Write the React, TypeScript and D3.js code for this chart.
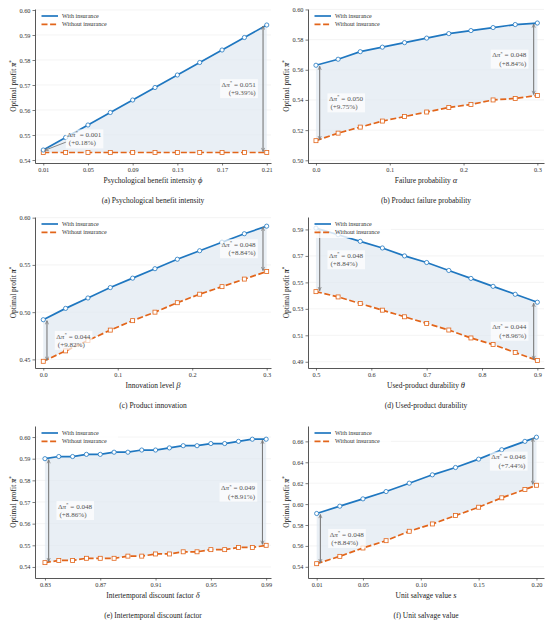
import React, { useEffect, useRef } from "react";
import * as d3 from "d3";

// sensitivity values
const phiValues = [0.01, 0.03, 0.05, 0.07, 0.09, 0.11, 0.13, 0.15, 0.17, 0.19, 0.21];
const phiWith = [0.544, 0.549, 0.554, 0.559, 0.564, 0.569, 0.574, 0.579, 0.584, 0.589, 0.594];
const phiWithout = [0.543, 0.543, 0.543, 0.543, 0.543, 0.543, 0.543, 0.543, 0.543, 0.543, 0.543];

const alphaValues = [0, 0.03, 0.06, 0.09, 0.12, 0.15, 0.18, 0.21, 0.24, 0.27, 0.3];
const alphaWith = [0.563, 0.567, 0.572, 0.575, 0.578, 0.581, 0.584, 0.586, 0.588, 0.59, 0.591];
const alphaWithout = [0.513, 0.518, 0.522, 0.526, 0.529, 0.532, 0.535, 0.537, 0.54, 0.541, 0.543];

const betaValues = [0, 0.03, 0.06, 0.09, 0.12, 0.15, 0.18, 0.21, 0.24, 0.27, 0.3];
const betaWith = [0.492, 0.504, 0.515, 0.526, 0.536, 0.546, 0.556, 0.565, 0.574, 0.583, 0.591];
const betaWithout = [0.448, 0.459, 0.47, 0.481, 0.491, 0.5, 0.51, 0.519, 0.527, 0.535, 0.543];

const thetaValues = [0.5, 0.54, 0.58, 0.62, 0.66, 0.7, 0.74, 0.78, 0.82, 0.86, 0.9];
const thetaWith = [0.591, 0.586, 0.581, 0.576, 0.57, 0.565, 0.559, 0.553, 0.547, 0.541, 0.535];
const thetaWithout = [0.543, 0.539, 0.534, 0.529, 0.524, 0.519, 0.514, 0.508, 0.503, 0.497, 0.491];

const deltaValues = [0.83, 0.84, 0.85, 0.86, 0.87, 0.88, 0.89, 0.9, 0.91, 0.92, 0.93, 0.94, 0.95, 0.96, 0.97, 0.98, 0.99];
const deltaWith = [0.59, 0.591, 0.591, 0.592, 0.592, 0.593, 0.593, 0.594, 0.594, 0.595, 0.596, 0.596, 0.597, 0.597, 0.598, 0.599, 0.599];
const deltaWithout = [0.542, 0.543, 0.543, 0.544, 0.544, 0.544, 0.545, 0.545, 0.546, 0.546, 0.547, 0.547, 0.548, 0.548, 0.549, 0.549, 0.55];

const sValues = [0.01, 0.03, 0.05, 0.07, 0.09, 0.11, 0.13, 0.15, 0.17, 0.19, 0.2];
const sWith = [0.591, 0.598, 0.605, 0.612, 0.62, 0.628, 0.635, 0.643, 0.652, 0.66, 0.664];
const sWithout = [0.543, 0.55, 0.558, 0.565, 0.574, 0.581, 0.589, 0.597, 0.606, 0.614, 0.618];

// tick values
const phiTicks = [0.01, 0.05, 0.09, 0.13, 0.17, 0.21];
const phiYTicks = [0.54, 0.55, 0.56, 0.57, 0.58, 0.59, 0.6];
const alphaTicks = [0, 0.1, 0.2, 0.3];
const alphaYTicks = [0.5, 0.52, 0.54, 0.56, 0.58, 0.6];
const betaTicks = [0, 0.1, 0.2, 0.3];
const betaYTicks = [0.45, 0.5, 0.55, 0.6];
const thetaTicks = [0.5, 0.6, 0.7, 0.8, 0.9];
const thetaYTicks = [0.49, 0.51, 0.53, 0.55, 0.57, 0.59];
const deltaTicks = [0.83, 0.87, 0.91, 0.95, 0.99];
const deltaYTicks = [0.54, 0.55, 0.56, 0.57, 0.58, 0.59, 0.6];
const sTicks = [0.01, 0.05, 0.1, 0.15, 0.2];
const sYTicks = [0.54, 0.56, 0.58, 0.6, 0.62, 0.64, 0.66];

// gap labels at the first and last point: [value, percent]
const phiGaps = [["0.001", "+0.18%"], ["0.051", "+9.39%"]];
const alphaGaps = [["0.050", "+9.75%"], ["0.048", "+8.84%"]];
const betaGaps = [["0.044", "+9.82%"], ["0.048", "+8.84%"]];
const thetaGaps = [["0.048", "+8.84%"], ["0.044", "+8.96%"]];
const deltaGaps = [["0.048", "+8.86%"], ["0.049", "+8.91%"]];
const sGaps = [["0.048", "+8.84%"], ["0.046", "+7.44%"]];

const seriesNames = ["With insurance", "Without insurance"];

const FONT = "'Liberation Serif', 'Times New Roman', 'DejaVu Serif', serif";
const BLUE = "#1f77c0";
const ORANGE = "#e2651a";
const GREY = "#7b7b7b";

const colLeft = [35, 308];
const plotWidth = 236;
const rowTop = [9, 217, 426];
const rowBottom = [163, 368, 578];

const panels = [
  {
    xs: phiValues, withIns: phiWith, withoutIns: phiWithout, xTicks: phiTicks, yTicks: phiYTicks,
    xFmt: ".2f", yFmt: ".2f", xDomain: [0.0026, 0.2138], yDomain: [0.5388, 0.6004],
    xLabel: "Psychological benefit intensity ", sym: "ϕ", caption: "(a) Psychological benefit intensity",
    gaps: phiGaps, leader: true,
  },
  {
    xs: alphaValues, withIns: alphaWith, withoutIns: alphaWithout, xTicks: alphaTicks, yTicks: alphaYTicks,
    xFmt: ".1f", yFmt: ".2f", xDomain: [-0.0108, 0.309], yDomain: [0.4982, 0.6003],
    xLabel: "Failure probability ", sym: "α", caption: "(b) Product failure probability",
    gaps: alphaGaps, leader: false,
  },
  {
    xs: betaValues, withIns: betaWith, withoutIns: betaWithout, xTicks: betaTicks, yTicks: betaYTicks,
    xFmt: ".1f", yFmt: ".2f", xDomain: [-0.0111, 0.3058], yDomain: [0.4409, 0.6007],
    xLabel: "Innovation level ", sym: "β", caption: "(c) Product innovation",
    gaps: betaGaps, leader: false,
  },
  {
    xs: thetaValues, withIns: thetaWith, withoutIns: thetaWithout, xTicks: thetaTicks, yTicks: thetaYTicks,
    xFmt: ".1f", yFmt: ".2f", xDomain: [0.4856, 0.912], yDomain: [0.4853, 0.5994],
    xLabel: "Used-product durability ", sym: "θ", caption: "(d) Used-product durability",
    gaps: thetaGaps, leader: false,
  },
  {
    xs: deltaValues, withIns: deltaWith, withoutIns: deltaWithout, xTicks: deltaTicks, yTicks: deltaYTicks,
    xFmt: ".2f", yFmt: ".2f", xDomain: [0.8228, 0.9935], yDomain: [0.5349, 0.6051],
    xLabel: "Intertemporal discount factor ", sym: "δ", caption: "(e) Intertemporal discount factor",
    gaps: deltaGaps, leader: false,
  },
  {
    xs: sValues, withIns: sWith, withoutIns: sWithout, xTicks: sTicks, yTicks: sYTicks,
    xFmt: ".2f", yFmt: ".2f", xDomain: [0.0025, 0.2065], yDomain: [0.5293, 0.6747],
    xLabel: "Unit salvage value ", sym: "s", caption: "(f) Unit salvage value",
    gaps: sGaps, leader: false,
  },
];

// two-line gap label with a light box behind it
function gapLabel(g: any, px: number, py: number, anchor: string, gap: string[]) {
  const box = g.append("rect");
  const t = g.append("text")
    .attr("font-family", FONT)
    .attr("font-size", 7.1)
    .attr("fill", "#555")
    .attr("text-anchor", anchor);
  const l1 = t.append("tspan").attr("x", px).attr("y", py - 2);
  l1.append("tspan").text("Δ");
  l1.append("tspan").attr("font-style", "italic").text("π");
  l1.append("tspan").attr("font-size", 5).attr("dy", -2.6).text("*");
  l1.append("tspan").attr("dy", 2.6).text(" = " + gap[0]);
  t.append("tspan").attr("x", anchor === "end" ? px : px + 1.5).attr("y", py + 6.4).text("(" + gap[1] + ")");
  const bb = (t.node() as SVGTextElement).getBBox();
  box
    .attr("x", bb.x - 1.5)
    .attr("y", bb.y - 1)
    .attr("width", bb.width + 3)
    .attr("height", bb.height + 2)
    .attr("fill", "white")
    .attr("opacity", 0.7);
  return bb;
}

function drawPanel(svg: any, p: any, idx: number) {
  const col = idx % 2;
  const row = Math.floor(idx / 2);
  const left = colLeft[col];
  const right = left + plotWidth;
  const top = rowTop[row];
  const bottom = rowBottom[row];

  const x = d3.scaleLinear().domain(p.xDomain).range([left, right]);
  const y = d3.scaleLinear().domain(p.yDomain).range([bottom, top]);
  const g = svg.append("g");

  // horizontal grid
  g.append("g")
    .selectAll("line")
    .data(p.yTicks)
    .join("line")
    .attr("x1", left)
    .attr("x2", right)
    .attr("y1", (d: number) => y(d))
    .attr("y2", (d: number) => y(d))
    .attr("stroke", "#ececec")
    .attr("stroke-width", 0.6);

  const pts = p.xs.map((v: number, i: number) => ({ x: v, a: p.withIns[i], b: p.withoutIns[i] }));

  // shaded gap
  const area = d3.area<any>().x((d) => x(d.x)).y0((d) => y(d.b)).y1((d) => y(d.a));
  g.append("path").attr("d", area(pts)).attr("fill", "#dfe8f1").attr("opacity", 0.7);

  const lineA = d3.line<any>().x((d) => x(d.x)).y((d) => y(d.a));
  const lineB = d3.line<any>().x((d) => x(d.x)).y((d) => y(d.b));

  g.append("path").attr("d", lineB(pts)).attr("fill", "none").attr("stroke", ORANGE)
    .attr("stroke-width", 1.7).attr("stroke-dasharray", "6,2.6");
  g.append("path").attr("d", lineA(pts)).attr("fill", "none").attr("stroke", BLUE)
    .attr("stroke-width", 1.7);

  g.append("g").selectAll("rect").data(pts).join("rect")
    .attr("x", (d: any) => x(d.x) - 2)
    .attr("y", (d: any) => y(d.b) - 2)
    .attr("width", 4)
    .attr("height", 4)
    .attr("fill", "white")
    .attr("stroke", ORANGE)
    .attr("stroke-width", 0.8);
  g.append("g").selectAll("circle").data(pts).join("circle")
    .attr("cx", (d: any) => x(d.x))
    .attr("cy", (d: any) => y(d.a))
    .attr("r", 2.1)
    .attr("fill", "white")
    .attr("stroke", BLUE)
    .attr("stroke-width", 0.8);

  // gap arrows + labels at both ends
  const first = pts[0];
  const last = pts[pts.length - 1];
  const xl = x(first.x) + 3.7;
  const xr = x(last.x) - 3.7;
  const midL = (y(first.a) + y(first.b)) / 2;
  const midR = (y(last.a) + y(last.b)) / 2;

  g.append("line").attr("x1", xr).attr("x2", xr).attr("y1", y(last.a) + 1).attr("y2", y(last.b) - 1)
    .attr("stroke", GREY).attr("stroke-width", 1.1)
    .attr("marker-start", "url(#gapHead)").attr("marker-end", "url(#gapHead)");
  gapLabel(g, x(last.x) - 11, midR, "end", p.gaps[1]);

  if (p.leader) {
    const tx = x(first.x) + 24;
    const ty = y(first.a) - 11;
    g.append("line").attr("x1", tx - 1).attr("y1", ty + 3).attr("x2", x(first.x) + 1.5).attr("y2", y(first.a) + 0.3)
      .attr("stroke", GREY).attr("stroke-width", 0.9).attr("marker-end", "url(#gapHead)");
    gapLabel(g, tx, ty, "start", p.gaps[0]);
  } else {
    g.append("line").attr("x1", xl).attr("x2", xl).attr("y1", y(first.a) + 1).attr("y2", y(first.b) - 1)
      .attr("stroke", GREY).attr("stroke-width", 1.1)
      .attr("marker-start", "url(#gapHead)").attr("marker-end", "url(#gapHead)");
    gapLabel(g, x(first.x) + 13, midL, "start", p.gaps[0]);
  }

  // axes
  const yAxis = g.append("g").attr("transform", `translate(${left},0)`)
    .call(d3.axisLeft(y).tickValues(p.yTicks).tickFormat(d3.format(p.yFmt)).tickSize(2.5).tickSizeOuter(0).tickPadding(2));
  const xAxis = g.append("g").attr("transform", `translate(0,${bottom})`)
    .call(d3.axisBottom(x).tickValues(p.xTicks).tickFormat(d3.format(p.xFmt)).tickSize(2.5).tickSizeOuter(0).tickPadding(2.5));
  [yAxis, xAxis].forEach((a) => {
    a.select(".domain").attr("stroke", "#444").attr("stroke-width", 0.9);
    a.selectAll(".tick line").attr("stroke", "#444").attr("stroke-width", 0.7);
    a.selectAll(".tick text").attr("font-family", FONT).attr("font-size", 6.3).attr("fill", "#333");
  });

  // axis titles
  const xt = g.append("text").attr("x", (left + right) / 2).attr("y", bottom + 19.5)
    .attr("text-anchor", "middle").attr("font-family", FONT).attr("font-size", 7.5).attr("fill", "#222");
  xt.append("tspan").text(p.xLabel);
  xt.append("tspan").attr("font-style", "italic").attr("font-size", 8.5).text(p.sym);

  const yt = g.append("text").attr("transform", `translate(${left - 19},${(top + bottom) / 2}) rotate(-90)`)
    .attr("text-anchor", "middle").attr("font-family", FONT).attr("font-size", 7.5).attr("fill", "#222");
  yt.append("tspan").text("Optimal profit ");
  yt.append("tspan").attr("font-style", "italic").attr("font-weight", "bold").text("π");
  yt.append("tspan").attr("font-size", 5.2).attr("dy", -3).text("*");

  g.append("text").attr("x", (left + right) / 2).attr("y", bottom + 39.5)
    .attr("text-anchor", "middle").attr("font-family", FONT).attr("font-size", 7.5).attr("fill", "#222")
    .text(p.caption);

  // legend
  const lg = g.append("g").attr("transform", `translate(${left + 3},${top + 2})`);
  lg.append("rect").attr("width", 80).attr("height", 19).attr("fill", "white").attr("opacity", 0.8);
  seriesNames.forEach((name, i) => {
    const yy = 5 + i * 8.4;
    lg.append("line").attr("x1", 3.5).attr("x2", 20).attr("y1", yy).attr("y2", yy)
      .attr("stroke", i === 0 ? BLUE : ORANGE).attr("stroke-width", 1.7)
      .attr("stroke-dasharray", i === 0 ? null : "6,2.6");
    lg.append("text").attr("x", 24).attr("y", yy + 2).attr("font-family", FONT)
      .attr("font-size", 6.1).attr("fill", "#333").text(name);
  });
}

const SensitivityFigure = () => {
  const ref = useRef<SVGSVGElement | null>(null);

  useEffect(() => {
    if (!ref.current) return;
    const svg = d3.select(ref.current);
    svg.selectAll("*").remove();

    svg.append("defs").append("marker")
      .attr("id", "gapHead")
      .attr("viewBox", "0 0 10 10")
      .attr("refX", 9)
      .attr("refY", 5)
      .attr("markerUnits", "userSpaceOnUse")
      .attr("markerWidth", 4.5)
      .attr("markerHeight", 4.5)
      .attr("orient", "auto-start-reverse")
      .append("path")
      .attr("d", "M1,1.5 L9,5 L1,8.5")
      .attr("fill", "none")
      .attr("stroke", GREY)
      .attr("stroke-width", 1.6);

    panels.forEach((p, i) => drawPanel(svg, p, i));
  }, []);

  return (
    <svg
      ref={ref}
      width={550}
      height={624}
      style={{ position: "absolute", left: 0, top: 0, display: "block", background: "white" }}
    />
  );
};

export default function App() {
  return <SensitivityFigure />;
}
